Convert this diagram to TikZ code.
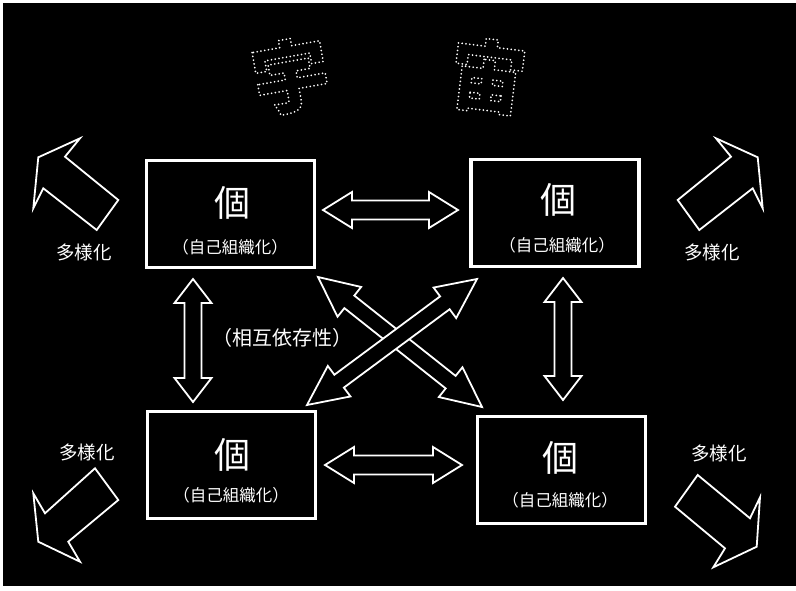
\documentclass[tikz,border=0pt]{standalone}
\usepackage{fontspec}
\newfontfamily\cjk{Noto Sans CJK JP}
\usetikzlibrary{calc}
\newcommand\dotoutline[1]{\special{pdf:literal direct 1 Tr 1.9 w 1 J 1 j [0 3.8] 0 d}#1\special{pdf:literal direct 0 Tr [] 0 d 0 J 0 j}}
\newcommand\dblarrow[5]{%
  \path coordinate (da) at ($(#1)!#5!(#2)$) coordinate (db) at ($(#2)!#5!(#1)$);
  \draw[hollow] (#1) -- ($(da)!#4!90:(#2)$) -- ($(da)!#3!90:(#2)$) -- ($(db)!#3!-90:(#1)$)
    -- ($(db)!#4!-90:(#1)$) -- (#2) -- ($(db)!#4!90:(#1)$) -- ($(db)!#3!90:(#1)$)
    -- ($(da)!#3!-90:(#2)$) -- ($(da)!#4!-90:(#2)$) -- cycle;}
\tikzset{
  box/.style={draw=white, line width=3.5pt, minimum width=168pt, minimum height=107pt, inner sep=0pt},
  hollow/.style={draw=white, line width=1.8pt, fill=black, line join=miter},
  big/.style={text=white, font=\cjk\fontsize{36}{36}\selectfont, inner sep=0pt},
  sub/.style={text=white, font=\cjk\fontsize{16.5}{16.5}\selectfont, inner sep=0pt},
  lbl/.style={text=white, font=\cjk\fontsize{18.5}{18.5}\selectfont, inner sep=0pt},
  ttl/.style={text=white, font=\cjk\bfseries\fontsize{78}{78}\selectfont, inner sep=0pt},
}
\begin{document}
\begin{tikzpicture}[x=1pt,y=-1pt]
\useasboundingbox (0,0) rectangle (796,590);
\fill[white] (0,0) rectangle (796,590);
\fill[black] (3,3) rectangle (796,586);

% title
\node[ttl, rotate=10] (t1) at (291,76) {\dotoutline{宇}};
\node[ttl, rotate=-7] (t2) at (488,76) {\dotoutline{宙}};

% boxes
\node[box] (tl) at (230.5,214) {};
\node[box] (tr) at (555,213) {};
\node[box] (bl) at (231.5,465) {};
\node[box] (br) at (561.5,470) {};

\node[big] (tlk) at (232,203) {個};
\node[sub] (tls) at (230,247) {（自己組織化）};
\node[big] (trk) at (558,200) {個};
\node[sub] (trs) at (557,245) {（自己組織化）};
\node[big] (blk) at (232,455) {個};
\node[sub] (bls) at (231,495) {（自己組織化）};
\node[big] (brk) at (560,458) {個};
\node[sub] (brs) at (560,500) {（自己組織化）};

\node[lbl, font=\cjk\fontsize{20}{20}\selectfont] (mid) at (282,338) {（相互依存性）};
\node[lbl] (d1) at (84,252) {多様化};
\node[lbl] (d2) at (712,252) {多様化};
\node[lbl] (d3) at (87,452) {多様化};
\node[lbl] (d4) at (719,453) {多様化};

% connector end points
\coordinate (h1a) at (323,210);
\coordinate (h1b) at (458,210);
\coordinate (h2a) at (325,465);
\coordinate (h2b) at (462,465);
\coordinate (v1a) at (193,279);
\coordinate (v1b) at (193,402);
\coordinate (v2a) at (563,278);
\coordinate (v2b) at (563,400);
\coordinate (x1a) at (318,277);
\coordinate (x1b) at (482,407);
\coordinate (x2a) at (477,279);
\coordinate (x2b) at (307,405);

\dblarrow{h1a}{h1b}{9.5pt}{18pt}{29pt}
\dblarrow{h2a}{h2b}{9.5pt}{18pt}{29pt}
\dblarrow{v1a}{v1b}{8.5pt}{18.5pt}{24pt}
\dblarrow{v2a}{v2b}{8.5pt}{18.5pt}{24pt}
\dblarrow{x1a}{x1b}{8pt}{19pt}{40pt}
\dblarrow{x2a}{x2b}{8pt}{19pt}{40pt}

% corner arrows
\draw[hollow] (38.3,157.3) -- (80,138.3) -- (65,156.7) -- (118.3,200) -- (96.7,230) -- (43.3,188.3) -- (33.3,208.3) -- cycle;
\draw[hollow] (757.7,157.3) -- (716,138.3) -- (731,156.7) -- (677.7,200) -- (699.3,230) -- (752.7,188.3) -- (762.7,208.3) -- cycle;
\draw[hollow] (95,468.3) -- (118.3,500) -- (68.3,541.7) -- (80,561.7) -- (38.3,541.7) -- (33.3,493.3) -- (45,513.3) -- cycle;
\draw[hollow] (697.7,475) -- (675,506.7) -- (725,548.3) -- (713.3,567.3) -- (756.7,546.7) -- (760,497.3) -- (750,518.3) -- cycle;
\end{tikzpicture}
\end{document}
